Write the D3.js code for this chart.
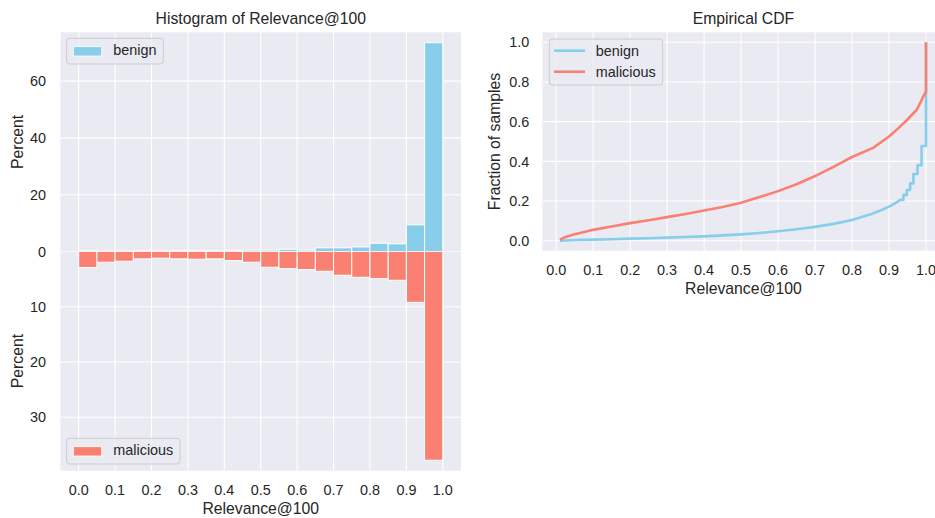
<!DOCTYPE html>
<html>
<head>
<meta charset="utf-8">
<script src="https://cdn.jsdelivr.net/npm/d3@7"></script>
<style>
  html, body { margin: 0; padding: 0; background: #ffffff; }
  svg { display: block; }
  text { font-family: "Liberation Sans", Arial, sans-serif; fill: #262626; }
</style>
</head>
<body>
<svg id="chart" width="935" height="518"></svg>
<script>
// ---------------- DATA ----------------
const binStarts = [0.00, 0.05, 0.10, 0.15, 0.20, 0.25, 0.30, 0.35, 0.40, 0.45,
                   0.50, 0.55, 0.60, 0.65, 0.70, 0.75, 0.80, 0.85, 0.90, 0.95];
const binWidth = 0.05;
const benignPct = [0.3, 0.2, 0.2, 0.3, 0.2, 0.3, 0.3, 0.3, 0.4, 0.5,
                   0.5, 0.8, 0.5, 1.3, 1.3, 1.6, 2.9, 2.7, 9.4, 73.5];
const maliciousPct = [2.9, 1.94, 1.76, 1.33, 1.21, 1.33, 1.39, 1.33, 1.64, 1.94,
                      2.85, 3.09, 3.27, 3.58, 4.30, 4.67, 4.91, 5.21, 9.21, 37.8];

const xTicks = [0.0, 0.1, 0.2, 0.3, 0.4, 0.5, 0.6, 0.7, 0.8, 0.9, 1.0];
const topYTicks = [0, 20, 40, 60];
const bottomYTicks = [10, 20, 30];
const cdfYTicks = [0.0, 0.2, 0.4, 0.6, 0.8, 1.0];

// Empirical CDF
// benign: smooth body, then visible steps in the tail
const benignBodyX = [0.01, 0.05, 0.10, 0.15, 0.20, 0.25, 0.30, 0.35, 0.40, 0.45, 0.50, 0.55, 0.60, 0.65,
                     0.70, 0.75, 0.80, 0.85, 0.88, 0.90, 0.91, 0.92, 0.930];
const benignBodyY = [0.000, 0.004, 0.006, 0.008, 0.011, 0.013, 0.016, 0.019, 0.022, 0.027, 0.032, 0.039, 0.048, 0.058,
                     0.070, 0.085, 0.105, 0.133, 0.155, 0.172, 0.182, 0.193, 0.206];
const benignTailX = [0.930, 0.939, 0.948, 0.957, 0.966, 0.977, 0.988, 1.0, 1.0];
const benignTailY = [0.206, 0.231, 0.256, 0.289, 0.336, 0.381, 0.477, 0.477, 1.0];
const maliciousCdfX = [0.01, 0.02, 0.04, 0.07, 0.10, 0.15, 0.20, 0.25, 0.30, 0.35, 0.40, 0.45, 0.50, 0.55,
                       0.60, 0.65, 0.70, 0.75, 0.80, 0.857, 0.90, 0.924, 0.948, 0.975, 0.988, 0.992, 0.998, 1.0, 1.0];
const maliciousCdfY = [0.005, 0.015, 0.028, 0.042, 0.055, 0.072, 0.089, 0.103, 0.119, 0.135, 0.152, 0.170, 0.192, 0.220,
                       0.250, 0.285, 0.326, 0.372, 0.422, 0.468, 0.525, 0.565, 0.607, 0.660, 0.707, 0.725, 0.745, 0.750, 1.0];

// ---------------- STYLE ----------------
const C_BENIGN = "#87CEEB";
const C_MAL = "#FA8072";
const BG = "#EAEAF2";
const TICK_FS = 14.4, LABEL_FS = 15.75;

const svg = d3.select("#chart");
const fmt1 = d3.format(".1f");

// ---------------- LEFT: mirrored histogram ----------------
const L = { left: 60.5, right: 461, top: 32.3, mid: 251.5, bottom: 470.7 };
const xH = d3.scaleLinear().domain([-0.05, 1.05]).range([L.left, L.right]);
const yTop = d3.scaleLinear().domain([0, d3.max(benignPct) * 1.05]).range([L.mid, L.top]);
const yBot = d3.scaleLinear().domain([0, d3.max(maliciousPct) * 1.05]).range([L.mid, L.bottom]);

function drawPanel(g, x, y, y0, y1, yTicks, clipId) {
  g.append("rect").attr("x", L.left).attr("y", Math.min(y0, y1))
    .attr("width", L.right - L.left).attr("height", Math.abs(y1 - y0)).attr("fill", BG);
  g.append("clipPath").attr("id", clipId).append("rect")
    .attr("x", L.left).attr("y", Math.min(y0, y1))
    .attr("width", L.right - L.left).attr("height", Math.abs(y1 - y0));
  const grid = g.append("g").attr("clip-path", `url(#${clipId})`);
  grid.selectAll(".vx").data(xTicks).join("line")
    .attr("x1", d => x(d)).attr("x2", d => x(d)).attr("y1", y0).attr("y2", y1)
    .attr("stroke", "#fff").attr("stroke-width", 1.1);
  grid.selectAll(".hy").data(yTicks).join("line")
    .attr("x1", L.left).attr("x2", L.right).attr("y1", d => y(d)).attr("y2", d => y(d))
    .attr("stroke", "#fff").attr("stroke-width", 1.1);
  return grid;
}

const gTop = svg.append("g");
const gridTop = drawPanel(gTop, xH, yTop, L.top, L.mid, [0].concat(topYTicks), "clipTop");
const gBot = svg.append("g");
const gridBot = drawPanel(gBot, xH, yBot, L.mid, L.bottom, [0].concat(bottomYTicks), "clipBot");

const binData = binStarts.map((s, i) => ({ s, e: s + binWidth, b: benignPct[i], m: maliciousPct[i] }));

gridTop.selectAll(".bb").data(binData).join("rect")
  .attr("x", d => xH(d.s)).attr("width", d => xH(d.e) - xH(d.s))
  .attr("y", d => yTop(d.b)).attr("height", d => yTop(0) - yTop(d.b))
  .attr("fill", C_BENIGN).attr("stroke", "#fff").attr("stroke-width", 1);

gridBot.selectAll(".mb").data(binData).join("rect")
  .attr("x", d => xH(d.s)).attr("width", d => xH(d.e) - xH(d.s))
  .attr("y", yBot(0)).attr("height", d => yBot(d.m) - yBot(0))
  .attr("fill", C_MAL).attr("stroke", "#fff").attr("stroke-width", 1);

// y tick labels
gTop.selectAll(".yt").data(topYTicks).join("text")
  .attr("x", L.left - 14.5).attr("y", d => yTop(d)).attr("dy", "0.36em")
  .attr("text-anchor", "end").attr("font-size", TICK_FS).text(d => d);
gBot.selectAll(".yt").data(bottomYTicks).join("text")
  .attr("x", L.left - 14.5).attr("y", d => yBot(d)).attr("dy", "0.36em")
  .attr("text-anchor", "end").attr("font-size", TICK_FS).text(d => d);

// x tick labels
gBot.selectAll(".xt").data(xTicks).join("text")
  .attr("x", d => xH(d)).attr("y", L.bottom + 24.3)
  .attr("text-anchor", "middle").attr("font-size", TICK_FS).text(d => fmt1(d));

// labels
svg.append("text").attr("x", (L.left + L.right) / 2).attr("y", L.bottom + 43.6)
  .attr("text-anchor", "middle").attr("font-size", LABEL_FS).text("Relevance@100");
svg.append("text").attr("transform", `translate(23.3,${(L.top + L.mid) / 2}) rotate(-90)`)
  .attr("text-anchor", "middle").attr("font-size", LABEL_FS).text("Percent");
svg.append("text").attr("transform", `translate(23.3,${(L.mid + L.bottom) / 2}) rotate(-90)`)
  .attr("text-anchor", "middle").attr("font-size", LABEL_FS).text("Percent");
svg.append("text").attr("x", (L.left + L.right) / 2).attr("y", 23.5)
  .attr("text-anchor", "middle").attr("font-size", LABEL_FS).text("Histogram of Relevance@100");

// patch legends
function patchLegend(x, y, w, h, color, label) {
  const g = svg.append("g");
  g.append("rect").attr("x", x).attr("y", y).attr("width", w).attr("height", h)
    .attr("rx", 3).attr("fill", BG).attr("fill-opacity", 0.8)
    .attr("stroke", "#CCCCCC").attr("stroke-width", 1);
  g.append("rect").attr("x", x + 6.6).attr("y", y + 8.4).attr("width", 28.4).attr("height", 9.3)
    .attr("fill", color).attr("stroke", "#fff").attr("stroke-width", 0.8);
  g.append("text").attr("x", x + 46.6).attr("y", y + 17).attr("font-size", TICK_FS).text(label);
}
patchLegend(66.7, 38.3, 96.6, 25.7, C_BENIGN, "benign");
patchLegend(66.7, 438.3, 113.3, 25.7, C_MAL, "malicious");

// ---------------- RIGHT: Empirical CDF ----------------
const R = { left: 542.5, right: 944.3, top: 32.3, bottom: 250.7 };
const xC = d3.scaleLinear().domain([-0.037, 1.0495]).range([R.left, R.right]);
const yC = d3.scaleLinear().domain([-0.05, 1.05]).range([R.bottom, R.top]);

const gC = svg.append("g");
gC.append("rect").attr("x", R.left).attr("y", R.top)
  .attr("width", R.right - R.left).attr("height", R.bottom - R.top).attr("fill", BG);
gC.append("clipPath").attr("id", "clipC").append("rect")
  .attr("x", R.left).attr("y", R.top).attr("width", R.right - R.left).attr("height", R.bottom - R.top);
const gCc = gC.append("g").attr("clip-path", "url(#clipC)");
gCc.selectAll(".vx").data(xTicks).join("line")
  .attr("x1", d => xC(d)).attr("x2", d => xC(d)).attr("y1", R.top).attr("y2", R.bottom)
  .attr("stroke", "#fff").attr("stroke-width", 1.1);
gCc.selectAll(".hy").data(cdfYTicks).join("line")
  .attr("x1", R.left).attr("x2", R.right).attr("y1", d => yC(d)).attr("y2", d => yC(d))
  .attr("stroke", "#fff").attr("stroke-width", 1.1);

const benignBody = benignBodyX.map((x, i) => [x, benignBodyY[i]]);
const benignTail = benignTailX.map((x, i) => [x, benignTailY[i]]);
const malPts = maliciousCdfX.map((x, i) => [x, maliciousCdfY[i]]);
const stepLine = d3.line().x(d => xC(d[0])).y(d => yC(d[1])).curve(d3.curveStepAfter);
const smoothLine = d3.line().x(d => xC(d[0])).y(d => yC(d[1])).curve(d3.curveLinear);

// join body (linear) and tail (steps) into one continuous path
const benignPath = smoothLine(benignBody) + stepLine(benignTail).replace(/^M/, "L");
gCc.append("path").attr("d", benignPath).attr("fill", "none")
  .attr("stroke", C_BENIGN).attr("stroke-width", 2.6).attr("stroke-linejoin", "round");
gCc.append("path").attr("d", smoothLine(malPts)).attr("fill", "none")
  .attr("stroke", C_MAL).attr("stroke-width", 2.6).attr("stroke-linejoin", "round");

gC.selectAll(".yt").data(cdfYTicks).join("text")
  .attr("x", R.left - 13.3).attr("y", d => yC(d)).attr("dy", "0.36em")
  .attr("text-anchor", "end").attr("font-size", TICK_FS).text(d => fmt1(d));
gC.selectAll(".xt").data(xTicks).join("text")
  .attr("x", d => xC(d)).attr("y", R.bottom + 24.3)
  .attr("text-anchor", "middle").attr("font-size", TICK_FS).text(d => fmt1(d));

svg.append("text").attr("x", (R.left + R.right) / 2).attr("y", R.bottom + 43.6)
  .attr("text-anchor", "middle").attr("font-size", LABEL_FS).text("Relevance@100");
svg.append("text").attr("transform", `translate(499.5,${(R.top + R.bottom) / 2}) rotate(-90)`)
  .attr("text-anchor", "middle").attr("font-size", LABEL_FS).text("Fraction of samples");
svg.append("text").attr("x", (R.left + R.right) / 2).attr("y", 23.5)
  .attr("text-anchor", "middle").attr("font-size", LABEL_FS).text("Empirical CDF");

// line legend
const lg = svg.append("g");
lg.append("rect").attr("x", 549.3).attr("y", 39).attr("width", 113.4).attr("height", 46)
  .attr("rx", 3).attr("fill", BG).attr("fill-opacity", 0.8)
  .attr("stroke", "#CCCCCC").attr("stroke-width", 1);
[["benign", C_BENIGN, 50.7], ["malicious", C_MAL, 71.7]].forEach(([lab, col, yy]) => {
  lg.append("line").attr("x1", 554).attr("x2", 585).attr("y1", yy).attr("y2", yy)
    .attr("stroke", col).attr("stroke-width", 2.6);
  lg.append("text").attr("x", 595.7).attr("y", yy + 5.6).attr("font-size", TICK_FS).text(lab);
});
</script>
</body>
</html>
